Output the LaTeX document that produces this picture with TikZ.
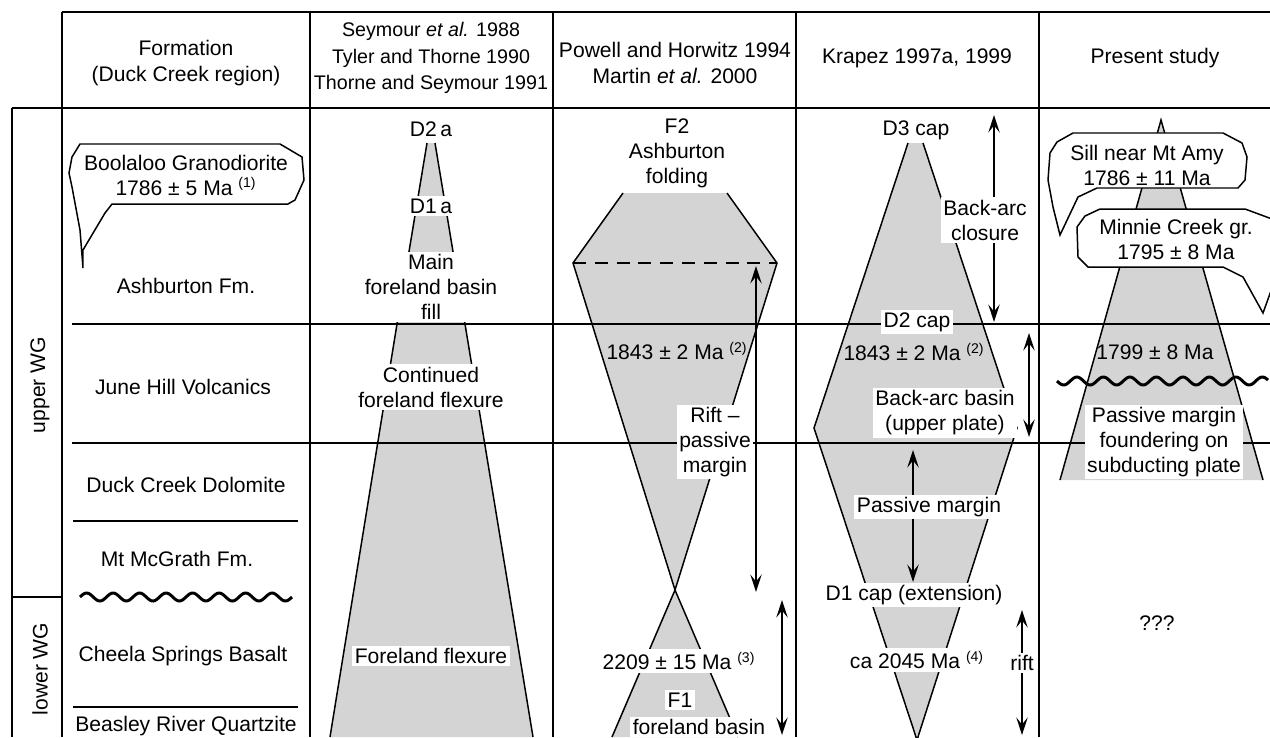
\documentclass[tikz,border=0pt]{standalone}
\usepackage{fontspec}
\setmainfont{Liberation Sans}
\usetikzlibrary{arrows.meta}

\tikzset{
    tabline/.style={line width=1.1pt},
    rowline/.style={line width=0.9pt},
    rim/.style={line width=0.85pt},
    band/.style={fill=black!17},
    lbl/.style={inner sep=1.5pt, align=center},
    wlbl/.style={lbl, fill=white},
    head/.style={lbl, font=\fontsize{12}{15.3}\selectfont},
    dbl/.style={line width=0.85pt,
        {Stealth[length=10pt,width=6.5pt,inset=4pt]}-{Stealth[length=10pt,width=6.5pt,inset=4pt]}},
    bubble/.style={rim, fill=white},
    wavy/.style={line width=1.7pt}
}

\begin{document}
\begin{tikzpicture}[x=0.02cm, y=-0.02cm, font=\fontsize{12}{14.2}\selectfont]
    \useasboundingbox (0,0) rectangle (1270,737);

    % Shaded wedges: Seymour column
    \coordinate (S1) at (427,143);
    \coordinate (S2) at (435,143);
    \coordinate (S3) at (465,324);
    \coordinate (S4) at (533,737);
    \coordinate (S5) at (330,737);
    \coordinate (S6) at (397,324);
    \fill[band] (S1) -- (S2) -- (S3) -- (S4) -- (S5) -- (S6) -- cycle;
    \draw[rim] (S1) -- (S6) -- (S5);
    \draw[rim] (S2) -- (S3) -- (S4);

    % Powell column
    \coordinate (P1) at (623,193);
    \coordinate (P2) at (727,193);
    \coordinate (P3) at (777,263);
    \coordinate (P4) at (675,590);
    \coordinate (P5) at (573,263);
    \coordinate (P6) at (738,737);
    \coordinate (P7) at (612,737);
    \fill[band] (P1) -- (P2) -- (P3) -- (P4) -- (P5) -- cycle;
    \fill[band] (P4) -- (P6) -- (P7) -- cycle;
    \draw[rim] (P1) -- (P5) -- (P4) -- (P6);
    \draw[rim] (P2) -- (P3) -- (P4) -- (P7);
    \draw[rim, dash pattern=on 7.4pt off 5pt] (P5) -- (P3);

    % Krapez column
    \coordinate (K1) at (908,143);
    \coordinate (K2) at (923,143);
    \coordinate (K3) at (1017,428);
    \coordinate (K4) at (917,740);
    \coordinate (K5) at (814,428);
    \fill[band] (K1) -- (K2) -- (K3) -- (K4) -- (K5) -- cycle;
    \draw[rim] (K1) -- (K5) -- (K4);
    \draw[rim] (K2) -- (K3) -- (K4);

    % Present study column
    \coordinate (M1) at (1161,120);
    \coordinate (M2) at (1263,480);
    \coordinate (M3) at (1060,480);
    \fill[band] (M1) -- (M2) -- (M3) -- cycle;
    \draw[rim] (M3) -- (M1) -- (M2);

    % Table frame
    \draw[tabline] (62,12) -- (1270,12);
    \draw[tabline] (12,108) -- (1270,108);
    \draw[tabline] (12,108) -- (12,737);
    \draw[tabline] (62,12) -- (62,737);
    \draw[tabline] (12,597) -- (62,597);
    \foreach \x in {310,553,796,1039}
        \draw[tabline] (\x,12) -- (\x,737);
    \foreach \y in {324,443}
        \draw[rowline] (72,\y) -- (1270,\y);
    \foreach \y in {521,707}
        \draw[rowline] (73,\y) -- (298,\y);

    % Double arrows
    \foreach \i/\x/\ya/\yb in {1/756/266/592, 2/782/600/735, 3/994/115/322,
                               4/1029/333/437, 5/913/450/582, 6/1022/610/735} {
        \coordinate (t\i) at (\x,\ya);
        \coordinate (b\i) at (\x,\yb);
        \draw[dbl] (t\i) -- (b\i);
    }

    % Headers
    \node[head] (hform) at (186,63) {Formation\\(Duck Creek region)};
    \node[head, font=\fontsize{11.2}{15.3}\selectfont] (hsey) at (431,58)
        {Seymour \textit{et al.} 1988\\Tyler and Thorne 1990\\Thorne and Seymour 1991};
    \node[head] (hpow) at (675,63) {Powell and Horwitz 1994\\Martin \textit{et al.} 2000};
    \node[head] (hkra) at (917,58) {Krapez 1997a, 1999};
    \node[head] (hpre) at (1155,58) {Present study};

    % Formations
    \node[lbl, rotate=90] (upper) at (40,385) {upper WG};
    \node[lbl, rotate=90] (lower) at (40,669) {lower WG};
    \node[lbl] (ashb) at (186,286) {Ashburton Fm.};
    \node[lbl] (june) at (183,387) {June Hill Volcanics};
    \node[lbl] (duck) at (186,485) {Duck Creek Dolomite};
    \node[lbl] (mcgr) at (177,559) {Mt McGrath Fm.};
    \node[lbl] (chee) at (183,656) {Cheela Springs Basalt};
    \node[lbl] (beas) at (186,726) {Beasley River Quartzite};

    % Seymour labels
    \node[lbl] (d2a) at (431,129) {D2\,a};
    \node[wlbl] (d1a) at (431,206) {D1\,a};
    \node[wlbl] (mainfill) at (431,287) {Main\\foreland basin\\fill};
    \node[wlbl] (contflex) at (431,387) {Continued\\foreland flexure};
    \node[wlbl] (foreflex) at (431,656) {Foreland flexure};

    % Powell labels
    \node[lbl] (f2) at (677,153) {F2\\Ashburton\\folding};
    \node[lbl] (p1843) at (677,351) {1843 ± 2 Ma \textsuperscript{(2)}};
    \node[wlbl] (rift) at (715,442) {Rift –\\passive\\margin};
    \node[wlbl] (p2209) at (679,661) {2209 ± 15 Ma \textsuperscript{(3)}};
    \node[wlbl] (f1) at (680,700) {F1};
    \node[wlbl] (f1basin) at (699,727) {foreland basin};

    % Krapez labels
    \node[lbl] (d3cap) at (916,130) {D3 cap};
    \node[wlbl] (closure) at (985,220) {Back-arc\\closure};
    \node[wlbl] (d2cap) at (917,322) {D2 cap};
    \node[lbl] (k1843) at (914,352) {1843 ± 2 Ma \textsuperscript{(2)}};
    \node[wlbl] (backarc) at (945,413) {Back-arc basin\\(upper plate)};
    \node[wlbl] (passive) at (929,507) {Passive margin};
    \node[wlbl] (d1cap) at (914,595) {D1 cap (extension)};
    \node[wlbl] (k2045) at (917,660) {ca 2045 Ma \textsuperscript{(4)}};
    \node[wlbl] (riftk) at (1022,663) {rift};

    % Present study labels
    \node[lbl] (m1799) at (1155,352) {1799 ± 8 Ma};
    \draw[wavy] plot[domain=0:211, samples=140, smooth] ({\x+1057},{381+4*sin(\x*13.585)});
    \node[wlbl] (founder) at (1164,442) {Passive margin\\foundering on\\subducting plate};
    \node[lbl] (unknown) at (1157,623) {???};

    % Unconformity in formation column
    \draw[wavy] plot[domain=0:212, samples=140, smooth] ({\x+80},{597-4*sin(\x*13.585)});

    % Callouts
    \draw[bubble] (80,144) -- (280,144) -- (302,157) -- (304,180) -- (295,200) -- (288,204)
        -- (112,204) -- (105,213) -- (83,250) -- (83,268) -- (80,230) -- (72,187)
        -- (69,173) -- (72,157) -- cycle;
    \node[lbl] (boolaloo) at (186,175) {Boolaloo Granodiorite\\1786 ± 5 Ma \textsuperscript{(1)}};

    \draw[bubble] (1073,133) -- (1223,133) -- (1242,143) -- (1247,157) -- (1245,180)
        -- (1238,188) -- (1097,188) -- (1078,197) -- (1060,235) -- (1053,207)
        -- (1048,180) -- (1050,153) -- (1057,142) -- cycle;
    \node[lbl] (sill) at (1147,165) {Sill near Mt Amy\\1786 ± 11 Ma};

    \draw[bubble] (1100,209) -- (1245,209) -- (1272,219) -- (1272,288) -- (1263,313)
        -- (1243,277) -- (1223,267) -- (1088,267) -- (1078,257) -- (1077,227)
        -- (1085,216) -- cycle;
    \node[lbl] (minnie) at (1176,239) {Minnie Creek gr.\\1795 ± 8 Ma};
\end{tikzpicture}
\end{document}
